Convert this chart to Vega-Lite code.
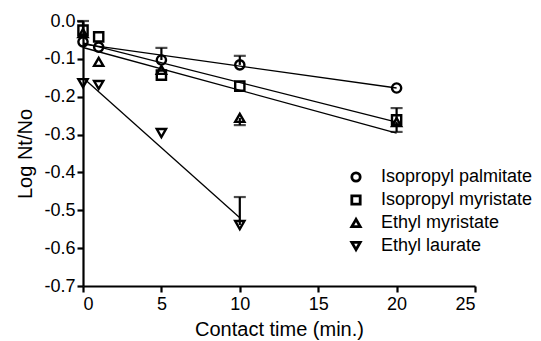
{
  "$schema": "https://vega.github.io/schema/vega-lite/v6.json",
  "width": 392,
  "height": 265,
  "autosize": {"type": "none"},
  "padding": {"left": 83, "top": 21, "right": 66, "bottom": 55},
  "background": "white",
  "config": {
    "view": {"stroke": null},
    "font": "Liberation Sans",
    "axis": {
      "grid": false,
      "domainColor": "black",
      "domainWidth": 2.2,
      "tickColor": "black",
      "tickWidth": 2.2,
      "tickSize": 6,
      "labelColor": "black",
      "titleColor": "black",
      "labelFont": "Liberation Sans",
      "titleFont": "Liberation Sans",
      "labelFontSize": 18,
      "titleFontSize": 20,
      "titleFontWeight": "normal"
    }
  },
  "datasets": {
    "pts": [
      {"series": "Isopropyl palmitate", "t": 0, "v": -0.055, "e": null},
      {"series": "Isopropyl palmitate", "t": 1, "v": -0.069, "e": null},
      {"series": "Isopropyl palmitate", "t": 5, "v": -0.103, "e": -0.071},
      {"series": "Isopropyl palmitate", "t": 10, "v": -0.116, "e": -0.092},
      {"series": "Isopropyl palmitate", "t": 20, "v": -0.177, "e": null},
      {"series": "Isopropyl myristate", "t": 0, "v": -0.024, "e": 0.0},
      {"series": "Isopropyl myristate", "t": 1, "v": -0.042, "e": null},
      {"series": "Isopropyl myristate", "t": 5, "v": -0.143, "e": null},
      {"series": "Isopropyl myristate", "t": 10, "v": -0.172, "e": null},
      {"series": "Isopropyl myristate", "t": 20, "v": -0.261, "e": -0.23},
      {"series": "Ethyl myristate", "t": 0, "v": -0.032, "e": null},
      {"series": "Ethyl myristate", "t": 1, "v": -0.108, "e": null},
      {"series": "Ethyl myristate", "t": 5, "v": -0.129, "e": null},
      {"series": "Ethyl myristate", "t": 10, "v": -0.256, "e": -0.275},
      {"series": "Ethyl myristate", "t": 20, "v": -0.267, "e": -0.293},
      {"series": "Ethyl laurate", "t": 0, "v": -0.164, "e": null},
      {"series": "Ethyl laurate", "t": 1, "v": -0.169, "e": null},
      {"series": "Ethyl laurate", "t": 5, "v": -0.296, "e": null},
      {"series": "Ethyl laurate", "t": 10, "v": -0.539, "e": -0.465}
    ],
    "fits": [
      {"series": "Isopropyl palmitate", "t": 0, "v": -0.061},
      {"series": "Isopropyl palmitate", "t": 20, "v": -0.177},
      {"series": "Isopropyl myristate", "t": 0, "v": -0.058},
      {"series": "Isopropyl myristate", "t": 20, "v": -0.267},
      {"series": "Ethyl myristate", "t": 0, "v": -0.07},
      {"series": "Ethyl myristate", "t": 20, "v": -0.296},
      {"series": "Ethyl laurate", "t": 0, "v": -0.15},
      {"series": "Ethyl laurate", "t": 10, "v": -0.52}
    ]
  },
  "encoding": {
    "x": {
      "field": "t",
      "type": "quantitative",
      "scale": {"domain": [0, 25], "nice": false, "zero": false},
      "axis": {"values": [0, 5, 10, 15, 20, 25], "title": "Contact time (min.)", "titlePadding": 6, "labelPadding": 3}
    },
    "y": {
      "field": "v",
      "type": "quantitative",
      "scale": {"domain": [-0.7, 0], "nice": false, "zero": false},
      "axis": {
        "values": [0, -0.1, -0.2, -0.3, -0.4, -0.5, -0.6, -0.7],
        "labelExpr": "replace(format(datum.value, '.1f'), '\u2212', '-')",
        "title": "Log Nt/No",
        "titlePadding": 8,
        "labelPadding": 2
      }
    }
  },
  "layer": [
    {
      "data": {"name": "fits"},
      "mark": {"type": "line", "color": "black", "strokeWidth": 1.3},
      "encoding": {"detail": {"field": "series"}}
    },
    {
      "data": {"name": "pts"},
      "transform": [{"filter": "datum.e != null"}],
      "mark": {"type": "rule", "color": "black", "strokeWidth": 2.2},
      "encoding": {"y2": {"field": "e"}}
    },
    {
      "data": {"name": "pts"},
      "transform": [{"filter": "datum.e != null"}],
      "mark": {"type": "tick", "orient": "horizontal", "color": "black", "size": 12, "thickness": 2.2},
      "encoding": {"y": {"field": "e", "type": "quantitative"}}
    },
    {
      "data": {"name": "pts"},
      "mark": {"type": "point", "filled": false, "color": "black", "strokeWidth": 2.4, "size": 85, "opacity": 1},
      "encoding": {
        "shape": {
          "field": "series",
          "type": "nominal",
          "sort": ["Isopropyl palmitate", "Isopropyl myristate", "Ethyl myristate", "Ethyl laurate"],
          "scale": {
            "domain": ["Isopropyl palmitate", "Isopropyl myristate", "Ethyl myristate", "Ethyl laurate"],
            "range": ["circle", "square", "triangle-up", "triangle-down"]
          },
          "legend": {
            "title": null,
            "orient": "none",
            "legendX": 264,
            "legendY": 147,
            "labelFont": "Liberation Sans",
            "labelFontSize": 18,
            "labelLimit": 400,
            "labelColor": "black",
            "symbolStrokeColor": "black",
            "symbolFillColor": "white",
            "symbolStrokeWidth": 2.8,
            "symbolSize": 70,
            "rowPadding": 3,
            "labelOffset": 16
          }
        }
      }
    }
  ]
}
